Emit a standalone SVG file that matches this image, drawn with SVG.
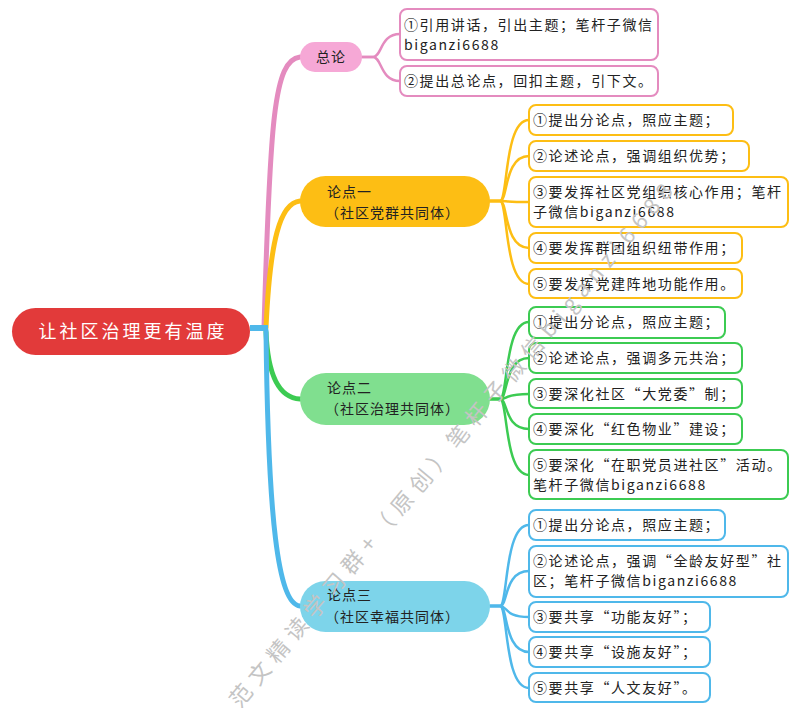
<svg xmlns="http://www.w3.org/2000/svg" width="800" height="715" viewBox="0 0 800 715">
<style>
  text { font-family: "Noto Sans CJK SC", "Liberation Sans", sans-serif; fill: #222; }
  .t { font-size: 14px; letter-spacing: 1.6px; }
  .nt { font-size: 14px; letter-spacing: 1px; }
  .root { font-size: 18px; letter-spacing: 3px; fill: #fff; text-anchor: middle; }
  .box { fill: #fff; stroke-width: 2; }
  .pk { stroke: #E48BBF; }
  .yl { stroke: #FDBE14; }
  .gr { stroke: #3CCB52; }
  .bl { stroke: #4FB8EA; }
  .ln { fill: none; stroke-width: 2.5; stroke-linecap: round; }
  .main { fill: none; stroke-width: 5; stroke-linecap: round; }
  .wm { font-size: 22px; fill: #c4c4c4; font-family: "Noto Sans CJK SC", sans-serif; }
</style>

<g id="connectors">
  <!-- main branches -->
  <path class="main pk" d="M264 328 C270 120 274 60 300 57"/>
  <path class="main yl" d="M266 328 C270 240 280 203 300 201"/>
  <path class="main gr" d="M266 332 C268 380 282 398 300 399"/>
  <path class="main bl" d="M266 330 C268 520 278 604 300 606"/>
  <path d="M250 328 H268" stroke="#4FB8EA" stroke-width="6" fill="none"/>
  <!-- pink children -->
  <path class="ln pk" d="M362 57 H373 C382 57 380 34 400 34"/>
  <path class="ln pk" d="M362 57 H373 C382 57 380 81 400 81"/>
  <!-- yellow children -->
  <path class="ln yl" d="M490 201 H500 C508 201 504 120 529 120"/>
  <path class="ln yl" d="M490 201 H500 C508 201 504 156 529 156"/>
  <path class="ln yl" d="M490 201 H500 C508 201 504 202 529 202"/>
  <path class="ln yl" d="M490 201 H500 C508 201 504 248 529 248"/>
  <path class="ln yl" d="M490 201 H500 C508 201 504 284 529 284"/>
  <!-- green children -->
  <path class="ln gr" d="M490 399 H500 C508 399 504 322 529 322"/>
  <path class="ln gr" d="M490 399 H500 C508 399 504 358 529 358"/>
  <path class="ln gr" d="M490 399 H500 C508 399 504 394 529 394"/>
  <path class="ln gr" d="M490 399 H500 C508 399 504 429 529 429"/>
  <path class="ln gr" d="M490 399 H500 C508 399 504 475 529 475"/>
  <!-- blue children -->
  <path class="ln bl" d="M490 606 H500 C508 606 504 525 529 525"/>
  <path class="ln bl" d="M490 606 H500 C508 606 504 571 529 571"/>
  <path class="ln bl" d="M490 606 H500 C508 606 504 617 529 617"/>
  <path class="ln bl" d="M490 606 H500 C508 606 504 652 529 652"/>
  <path class="ln bl" d="M490 606 H500 C508 606 504 688 529 688"/>
</g>

<g id="root">
  <rect x="12" y="308" width="238" height="47" rx="23.5" fill="#E23A3A"/>
  <text class="root" x="133" y="338">让社区治理更有温度</text>
</g>

<g id="zonglun">
  <rect x="300" y="42" width="62" height="30" rx="15" fill="#F6A8D6"/>
  <text class="nt" x="316" y="62">总论</text>
</g>
<g id="zl-1">
  <rect class="box pk" x="400" y="9" width="258" height="51" rx="7"/>
  <text class="t" x="404" y="30">①引用讲话，引出主题；笔杆子微信</text>
  <text class="t" x="404" y="50">biganzi6688</text>
</g>
<g id="zl-2">
  <rect class="box pk" x="400" y="66" width="258" height="30" rx="7"/>
  <text class="t" x="404" y="86">②提出总论点，回扣主题，引下文。</text>
</g>

<g id="ld1">
  <rect x="300" y="176" width="190" height="51" rx="25.5" fill="#FDBE14"/>
  <text class="nt" x="327" y="197">论点一</text>
  <text class="nt" x="325" y="218">（社区党群共同体）</text>
</g>
<g id="ld1-1">
  <rect class="box yl" x="529" y="105" width="204" height="30" rx="7"/>
  <text class="t" x="533" y="125">①提出分论点，照应主题；</text>
</g>
<g id="ld1-2">
  <rect class="box yl" x="529" y="141" width="220" height="30" rx="7"/>
  <text class="t" x="533" y="161">②论述论点，强调组织优势；</text>
</g>
<g id="ld1-3">
  <rect class="box yl" x="529" y="177" width="259" height="50" rx="7"/>
  <text class="t" x="533" y="197">③要发挥社区党组织核心作用；笔杆</text>
  <text class="t" x="533" y="217">子微信biganzi6688</text>
</g>
<g id="ld1-4">
  <rect class="box yl" x="529" y="233" width="213" height="30" rx="7"/>
  <text class="t" x="533" y="253">④要发挥群团组织纽带作用；</text>
</g>
<g id="ld1-5">
  <rect class="box yl" x="529" y="269" width="213" height="29" rx="7"/>
  <text class="t" x="533" y="289">⑤要发挥党建阵地功能作用。</text>
</g>

<g id="ld2">
  <rect x="300" y="373" width="190" height="52" rx="26" fill="#80DF8F"/>
  <text class="nt" x="327" y="393">论点二</text>
  <text class="nt" x="325" y="414">（社区治理共同体）</text>
</g>
<g id="ld2-1">
  <rect class="box gr" x="529" y="307" width="196" height="31" rx="7"/>
  <text class="t" x="533" y="327">①提出分论点，照应主题；</text>
</g>
<g id="ld2-2">
  <rect class="box gr" x="529" y="343" width="213" height="30" rx="7"/>
  <text class="t" x="533" y="363">②论述论点，强调多元共治；</text>
</g>
<g id="ld2-3">
  <rect class="box gr" x="529" y="379" width="213" height="29" rx="7"/>
  <text class="t" x="533" y="399">③要深化社区“大党委”制；</text>
</g>
<g id="ld2-4">
  <rect class="box gr" x="529" y="414" width="213" height="30" rx="7"/>
  <text class="t" x="533" y="434">④要深化“红色物业”建设；</text>
</g>
<g id="ld2-5">
  <rect class="box gr" x="529" y="450" width="259" height="49" rx="7"/>
  <text class="t" x="533" y="470">⑤要深化“在职党员进社区”活动。</text>
  <text class="t" x="533" y="490">笔杆子微信biganzi6688</text>
</g>

<g id="ld3">
  <rect x="300" y="581" width="190" height="51" rx="25.5" fill="#7DD4EA"/>
  <text class="nt" x="327" y="600">论点三</text>
  <text class="nt" x="325" y="622">（社区幸福共同体）</text>
</g>
<g id="ld3-1">
  <rect class="box bl" x="529" y="510" width="196" height="30" rx="7"/>
  <text class="t" x="533" y="530">①提出分论点，照应主题；</text>
</g>
<g id="ld3-2">
  <rect class="box bl" x="529" y="546" width="259" height="51" rx="7"/>
  <text class="t" x="533" y="566">②论述论点，强调“全龄友好型”社</text>
  <text class="t" x="533" y="586">区；笔杆子微信biganzi6688</text>
</g>
<g id="ld3-3">
  <rect class="box bl" x="529" y="602" width="181" height="30" rx="7"/>
  <text class="t" x="533" y="622">③要共享“功能友好”；</text>
</g>
<g id="ld3-4">
  <rect class="box bl" x="529" y="637" width="181" height="30" rx="7"/>
  <text class="t" x="533" y="657">④要共享“设施友好”；</text>
</g>
<g id="ld3-5">
  <rect class="box bl" x="529" y="673" width="181" height="29" rx="7"/>
  <text class="t" x="533" y="693">⑤要共享“人文友好”。</text>
</g>

<g id="watermark">
  <text class="wm" x="0" y="0" transform="translate(240 709) rotate(-50)" textLength="675" lengthAdjust="spacing">范文精读学习群+（原创）笔杆子微信biganzi6688</text>
</g>
</svg>
